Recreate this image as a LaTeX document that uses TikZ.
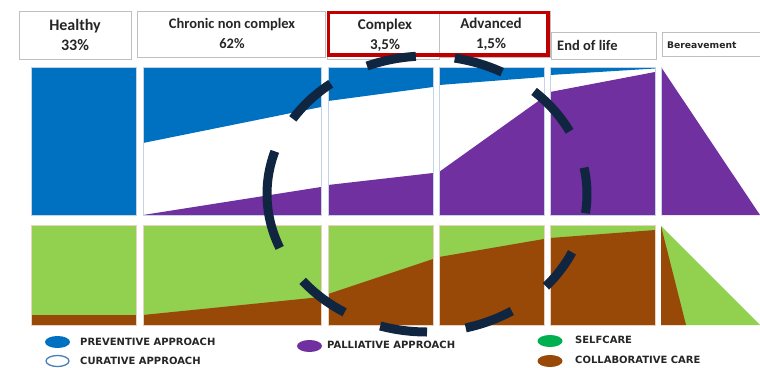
\documentclass[tikz,border=0pt]{standalone}
\usepackage{fontspec}
\usetikzlibrary{shapes.geometric}
\newfontfamily\hdrfont{Carlito}
\newfontfamily\lgdfont{DejaVu Sans}
\definecolor{cblue}{HTML}{0070C0}
\definecolor{cpurple}{HTML}{7030A0}
\definecolor{cgreen}{HTML}{92D050}
\definecolor{cbrown}{HTML}{984807}
\definecolor{cself}{HTML}{00B050}
\definecolor{cred}{HTML}{C00000}
\definecolor{cnavy}{HTML}{10253F}
\definecolor{cgrey}{HTML}{BFBFBF}
\definecolor{cedge}{HTML}{C5D3E6}
\definecolor{cedgel}{HTML}{E9D3BE}
\definecolor{ccur}{HTML}{4A7EBB}
\tikzset{
  hbox/.style={draw=cgrey, line width=0.8pt, fill=white, inner sep=0pt, anchor=north west},
  htext/.style={font=\hdrfont\bfseries\fontsize{15}{20}\selectfont, align=center, inner sep=0pt, text=black!85},
  upedge/.style={draw=cedge, line width=0.8pt},
  loedge/.style={draw=cedgel, line width=0.6pt},
  lgdot/.style={ellipse, minimum width=25pt, minimum height=12pt, inner sep=0pt},
  lgtext/.style={anchor=west, inner sep=0pt, font=\lgdfont\bfseries\fontsize{10}{11}\selectfont, text=black!85},
  dashc/.style={draw=cnavy, line width=9pt}
}
\begin{document}
\begin{tikzpicture}[x=1pt,y=-1pt]
\useasboundingbox (0,0) rectangle (760,367);
% ---------- header boxes ----------
\node[hbox, minimum width=112pt, minimum height=48pt] (hHealthy) at (19,11) {};
\node[hbox, minimum width=188pt, minimum height=46pt] (hChronic) at (137,11) {};
\node[hbox, minimum width=112pt, minimum height=48pt] (hComplex) at (327,11) {};
\node[hbox, minimum width=111pt, minimum height=46pt] (hAdvanced) at (439,11) {};
\node[hbox, minimum width=105pt, minimum height=27pt] (hEnd) at (551,32) {};
\node[hbox, minimum width=110pt, minimum height=24pt] (hBer) at (662,32) {};
\node[htext, font=\hdrfont\bfseries\fontsize{16}{20}\selectfont] (tHealthy) at (75,35) {Healthy\\33\%};
\node[htext, font=\hdrfont\bfseries\fontsize{14.5}{19.5}\selectfont] (tChronic) at (232,33.5) {Chronic non complex\\62\%};
\node[htext] (tComplex) at (385,35) {Complex\\3,5\%};
\node[htext] (tAdvanced) at (491,34) {Advanced\\1,5\%};
\node[htext, font=\hdrfont\bfseries\fontsize{14.5}{18}\selectfont, anchor=west] (tEnd) at (557,45.5) {End of life};
\node[htext, font=\lgdfont\bfseries\fontsize{9.2}{11}\selectfont, anchor=west] (tBer) at (667,45) {Bereavement};
\draw[cred, line width=3.5pt] (328.5,12.5) rectangle (548,55);
% ---------- upper panels ----------
\fill[cblue] (31,67) rectangle (136,215);
\draw[upedge] (31,67) rectangle (136,215);
% panel 2
\fill[white] (143,67) rectangle (321,215);
\fill[cblue] (143,67) -- (321,67) -- (321,107) -- (143,143) -- cycle;
\fill[cpurple] (143,215) -- (321,187) -- (321,215) -- cycle;
\draw[upedge] (143,67) rectangle (321,215);
% panel 3
\fill[cblue] (328,67) -- (433,67) -- (433,87) -- (328,101) -- cycle;
\fill[cpurple] (328,185) -- (433,173) -- (433,215) -- (328,215) -- cycle;
\draw[upedge] (328,67) rectangle (433,215);
% panel 4
\fill[cblue] (439,67) -- (544,67) -- (544,77) -- (439,85) -- cycle;
\fill[cpurple] (439,172) -- (544,97) -- (544,215) -- (439,215) -- cycle;
\draw[upedge] (439,67) rectangle (544,215);
% panel 5
\fill[cblue] (550,67) -- (655,67) -- (655,68.5) -- (550,75) -- cycle;
\fill[cpurple] (550,92) -- (655,72) -- (655,215) -- (550,215) -- cycle;
\draw[upedge] (550,67) rectangle (655,215);
% panel 6
\fill[cpurple] (661,67) -- (760,215) -- (661,215) -- cycle;
\draw[upedge] (661,67) -- (661,215);
% ---------- lower panels ----------
\fill[cgreen] (31,225) rectangle (136,325);
\fill[cbrown] (31,315) rectangle (136,325);
\draw[loedge] (31,225) rectangle (136,325);
\fill[cgreen] (143,225) rectangle (321,325);
\fill[cbrown] (143,315) -- (321,297) -- (321,325) -- (143,325) -- cycle;
\draw[loedge] (143,225) rectangle (321,325);
\fill[cgreen] (328,225) rectangle (433,325);
\fill[cbrown] (328,294) -- (433,259) -- (433,325) -- (328,325) -- cycle;
\draw[loedge] (328,225) rectangle (433,325);
\fill[cgreen] (439,225) rectangle (544,325);
\fill[cbrown] (439,257) -- (544,239) -- (544,325) -- (439,325) -- cycle;
\draw[loedge] (439,225) rectangle (544,325);
\fill[cgreen] (550,225) rectangle (655,325);
\fill[cbrown] (550,238) -- (655,230) -- (655,325) -- (550,325) -- cycle;
\draw[loedge] (550,225) rectangle (655,325);
\fill[cgreen] (661,226) -- (760,325) -- (661,325) -- cycle;
\fill[cbrown] (661,226) -- (686,325) -- (661,325) -- cycle;
% ---------- legend ----------
\node[lgdot, fill=cblue] (dPrev) at (57.5,342) {};
\node[lgtext] (lPrev) at (80,342) {PREVENTIVE APPROACH};
\node[lgdot, draw=ccur, line width=1.3pt, fill=white, minimum width=23pt, minimum height=11pt] (dCur) at (57.5,361) {};
\node[lgtext] (lCur) at (80,361) {CURATIVE APPROACH};
\node[lgdot, fill=cpurple] (dPal) at (309.5,346) {};
\node[lgtext] (lPal) at (327,345) {PALLIATIVE APPROACH};
\node[lgdot, fill=cself] (dSelf) at (550,341) {};
\node[lgtext] (lSelf) at (575,340) {SELFCARE};
\node[lgdot, fill=cbrown] (dColl) at (550,361) {};
\node[lgtext] (lColl) at (575,360) {COLLABORATIVE CARE};
% ---------- dashed ellipse ----------
\foreach \a/\b in {94/112, 62/80, 27/48, -8/11, -42/-25, -76/-58, -107/-90, -141/-121, 162/203, 127/147}
  \draw[dashc] plot[domain=\a:\b, samples=24, smooth] ({427+160*cos(\x)},{194-138*sin(\x)});
\end{tikzpicture}
\end{document}
